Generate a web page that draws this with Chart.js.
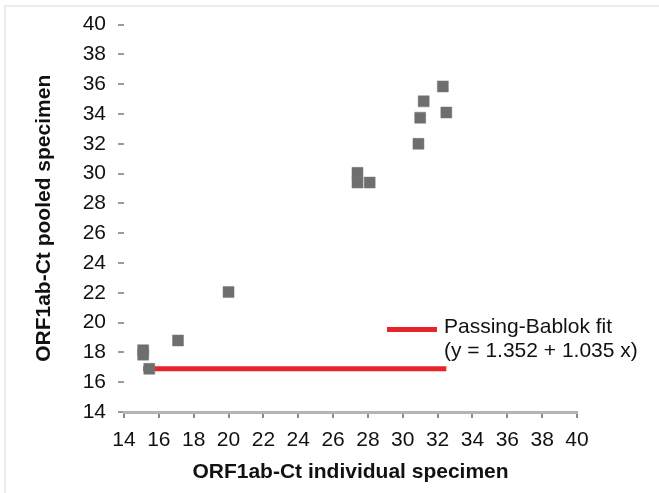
<!DOCTYPE html>
<html>
<head>
<meta charset="utf-8">
<script src="https://cdn.jsdelivr.net/npm/chart.js@4.4.1/dist/chart.umd.min.js"></script>
<style>
    html, body { margin: 0; padding: 0; background: #fff; }
    #wrap { position: relative; width: 659px; height: 493px; overflow: hidden; }
    #frame { position: absolute; left: 4px; top: 5px; width: 700px; height: 486px; border: 2px solid #ececec; }
    canvas { position: absolute; left: 0; top: 0; }
</style>
</head>
<body>
<div id="wrap">
    <div id="frame"></div>
    <canvas id="pbChart" width="659" height="493"></canvas>
</div>
<script>
// Ct values
const individualCt = [15.1, 15.1, 15.45, 17.1, 20.0, 27.4, 27.4, 28.1, 30.9, 31.0, 31.2, 32.3, 32.5];
const pooledCt = [18.15, 17.85, 16.9, 18.8, 22.05, 30.05, 29.4, 29.4, 32.0, 33.75, 34.85, 35.85, 34.1];

// fitted line as drawn in the figure
const fitX = [15.1, 32.5];
const fitY = [16.9, 16.9];

const axisMin = 14;
const axisMax = 40;
const axisStep = 2;

const xTitle = 'ORF1ab-Ct individual specimen';
const yTitle = 'ORF1ab-Ct pooled specimen';
const fitLabel = ['Passing-Bablok fit', '(y = 1.352 + 1.035 x)'];

const FONT = "'Liberation Sans', Arial, sans-serif";
const RED = '#e8232a';

const insideLegend = {
    id: 'insideLegend',
    afterDraw(chart) {
        const ctx = chart.ctx;
        const area = chart.chartArea;
        const x0 = area.left + 263;
        const y0 = area.top + 305;
        ctx.save();
        ctx.strokeStyle = RED;
        ctx.lineWidth = 5;
        ctx.beginPath();
        ctx.moveTo(x0, y0);
        ctx.lineTo(x0 + 50, y0);
        ctx.stroke();
        ctx.fillStyle = '#111';
        ctx.font = '21px ' + FONT;
        ctx.textBaseline = 'middle';
        fitLabel.forEach((line, i) => {
            ctx.fillText(line, x0 + 57, y0 - 2 + i * 24);
        });
        ctx.restore();
    }
};

const points = individualCt.map((x, i) => ({ x: x, y: pooledCt[i] }));
const fitLine = fitX.map((x, i) => ({ x: x, y: fitY[i] }));

new Chart(document.getElementById('pbChart'), {
    type: 'scatter',
    data: {
        datasets: [{
            label: 'Specimens',
            data: points,
            pointStyle: 'rect',
            pointRadius: 7.8,
            pointHoverRadius: 7.8,
            backgroundColor: '#6e6e6e',
            borderColor: '#7a7a7a',
            borderWidth: 0.5,
            order: 0
        }, {
            type: 'line',
            label: fitLabel.join(' '),
            data: fitLine,
            borderColor: RED,
            borderWidth: 5,
            borderCapStyle: 'butt',
            pointRadius: 0,
            fill: false,
            order: 1
        }]
    },
    options: {
        responsive: false,
        animation: false,
        devicePixelRatio: 1,
        layout: { padding: { top: 19, right: 82, left: 0, bottom: 0 } },
        plugins: {
            legend: { display: false },
            tooltip: { enabled: false }
        },
        scales: {
            x: {
                type: 'linear',
                min: axisMin,
                max: axisMax,
                afterFit(scale) { scale.height = 81; },
                ticks: {
                    stepSize: axisStep,
                    color: '#111',
                    font: { family: FONT, size: 21 },
                    padding: 10
                },
                grid: {
                    drawOnChartArea: false,
                    drawTicks: true,
                    tickLength: 6,
                    color: '#8c8c8c',
                    lineWidth: 2
                },
                border: { display: true, color: '#b4b4b4', width: 3 },
                title: {
                    display: true,
                    text: xTitle,
                    color: '#111',
                    font: { family: FONT, size: 21, weight: 'bold' },
                    padding: { top: 0, bottom: 8 }
                }
            },
            y: {
                type: 'linear',
                min: axisMin,
                max: axisMax,
                afterFit(scale) { scale.width = 124; },
                ticks: {
                    stepSize: axisStep,
                    color: '#111',
                    font: { family: FONT, size: 21 },
                    padding: 12
                },
                grid: {
                    drawOnChartArea: false,
                    drawTicks: true,
                    tickLength: 6,
                    color: '#9a9a9a',
                    lineWidth: 2
                },
                border: { display: false },
                title: {
                    display: true,
                    text: yTitle,
                    color: '#111',
                    font: { family: FONT, size: 21, weight: 'bold' },
                    padding: { top: 32, bottom: 0 }
                }
            }
        }
    },
    plugins: [insideLegend]
});
</script>
</body>
</html>
